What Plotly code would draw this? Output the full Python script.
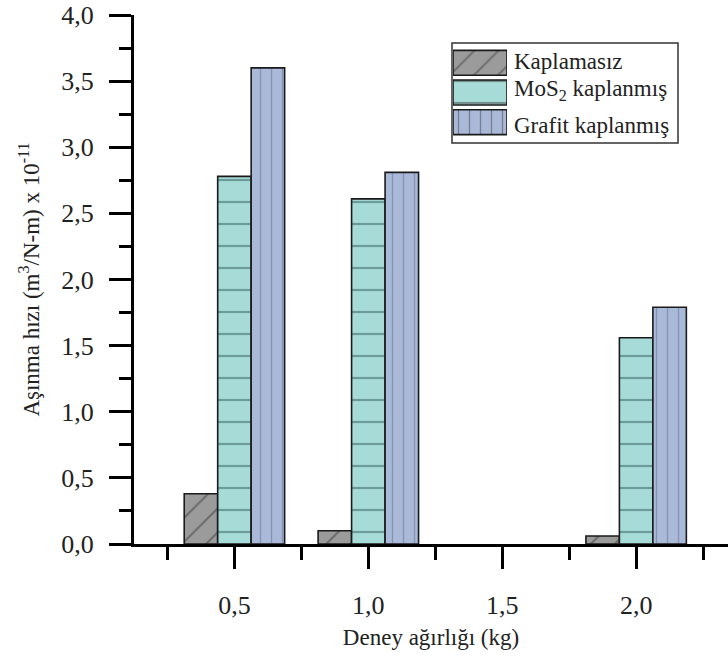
import plotly.graph_objects as go

# ---- data ----
weights = [0.5, 1.0, 1.5, 2.0]
uncoated = [0.38, 0.10, None, 0.06]
mos2 = [2.78, 2.61, None, 1.56]
graphite = [3.60, 2.81, None, 1.79]
series_names = ["Kaplamasız", "MoS<sub>2</sub> kaplanmış", "Grafit kaplanmış"]

FONT = "Liberation Serif"
FS = 23
TFS = 26
fills = ["#9b9b9b", "#a6dbd7", "#aab9d8"]
lines_c = ["#3a3a3a", "#2f5e5b", "#5d6f90"]
shapes = ["/", "-", "|"]
psizes = [17, 22, 11]
psol = [0.12, 0.1, 0.12]

# plot area in pixels
W, H = 728, 659
L, R, T, B = 134, 0, 15, 115
pw, ph = W - L - R, H - T - B

def px2paper(x, y):
    return (x - L) / pw, (H - B - y) / ph

fig = go.Figure()
for vals, name, c, lc, sh, sz, so in zip(
        [uncoated, mos2, graphite], series_names, fills, lines_c, shapes, psizes, psol):
    fig.add_trace(go.Bar(
        x=weights, y=vals, name=name, showlegend=False,
        marker=dict(color=c, line=dict(color="#1a1a1a", width=1.6),
                    pattern=dict(shape=sh, fillmode="overlay", fgcolor=lc,
                                 size=sz, solidity=so)),
    ))

# custom legend swatches on an inset axis
fig.add_trace(go.Bar(
    x=[1, 1, 1], y=[0, 1, 2], orientation="h", base=0, width=0.84,
    xaxis="x2", yaxis="y2", showlegend=False, hoverinfo="skip",
    marker=dict(color=fills, line=dict(color="#1a1a1a", width=1.6),
                pattern=dict(shape=shapes, fillmode="overlay", fgcolor=lines_c,
                             size=psizes, solidity=psol)),
))

x0, y0 = px2paper(453, 137)
x1, y1 = px2paper(507, 48)
bx0, by0 = px2paper(452, 143)
bx1, by1 = px2paper(678, 43)

axis_common = dict(showline=True, linewidth=3, linecolor="black",
                   ticks="outside", ticklen=22, tickwidth=3, tickcolor="black",
                   showgrid=False, zeroline=False, tickformat=".1f",
                   tickfont=dict(family=FONT, size=TFS, color="#222"))

fig.update_layout(
    width=W, height=H,
    margin=dict(l=L, r=R, t=T, b=B),
    plot_bgcolor="white", paper_bgcolor="white",
    separators=", ",
    barmode="group", bargap=0.25, bargroupgap=0,
    font=dict(family=FONT, color="#222", size=FS),
    xaxis=dict(range=[0.125, 2.343], tick0=0, dtick=0.5,
               minor=dict(dtick=0.25, ticklen=13, tickwidth=3, tickcolor="black", ticks="outside"),
               ticklabelstandoff=14,
               title=dict(text="Deney ağırlığı (kg)", standoff=10,
                          font=dict(family=FONT, size=FS, color="#222")),
               **axis_common),
    yaxis=dict(range=[0, 4], tick0=0, dtick=0.5,
               minor=dict(dtick=0.25, ticklen=12, tickwidth=3, tickcolor="black", ticks="outside"),
               ticklabelstandoff=10,
               title=dict(text="Aşınma hızı (m<sup>3</sup>/N-m) x 10<sup>-11</sup>", standoff=16,
                          font=dict(family=FONT, size=FS, color="#222")),
               **axis_common),
    xaxis2=dict(domain=[x0, x1], range=[0, 1], anchor="y2", visible=False, fixedrange=True),
    yaxis2=dict(domain=[y0, y1], range=[2.5, -0.5], anchor="x2", visible=False, fixedrange=True),
    shapes=[dict(type="rect", xref="paper", yref="paper", x0=bx0, y0=by0, x1=bx1, y1=by1,
                 line=dict(color="#333", width=1.5), fillcolor="rgba(0,0,0,0)", layer="below")],
)

row_px = [61, 90, 125]
for name, ry in zip(series_names, row_px):
    ax, ay = px2paper(512, ry)
    fig.add_annotation(x=ax, y=ay, xref="paper", yref="paper", text=name, showarrow=False,
                       xanchor="left", yanchor="middle",
                       font=dict(family=FONT, size=FS, color="#222"))

fig.write_html("out.html")
